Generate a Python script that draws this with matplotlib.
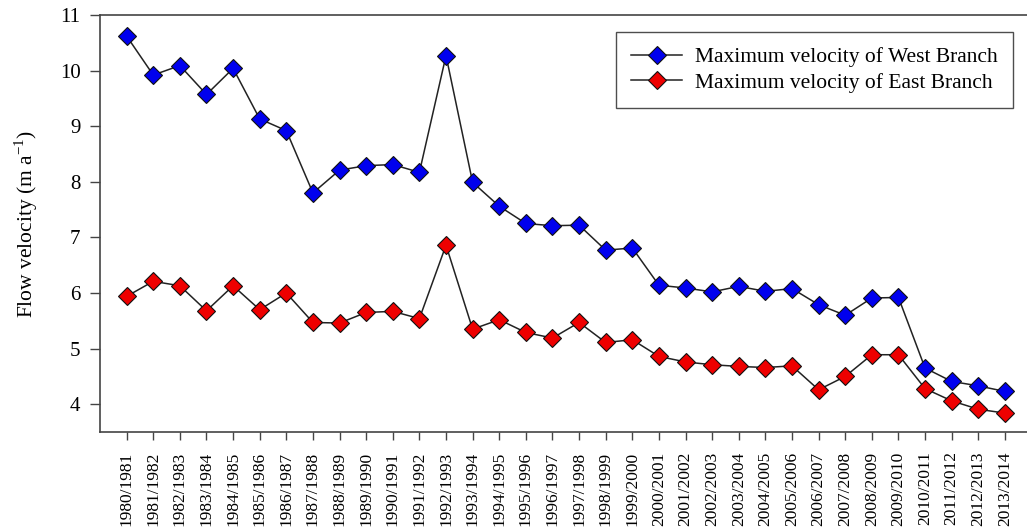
import matplotlib
matplotlib.use("Agg")
import matplotlib.pyplot as plt

plt.rcParams['font.family'] = ['Liberation Serif', 'DejaVu Serif']
plt.rcParams['mathtext.fontset'] = 'custom'
plt.rcParams['mathtext.rm'] = 'Liberation Serif'

years = [f"{y}/{y + 1}" for y in range(1980, 2014)]

west = [10.62, 9.92, 10.09, 9.57, 10.04, 9.13, 8.92, 7.80, 8.21, 8.29,
        8.31, 8.17, 10.27, 7.99, 7.56, 7.25, 7.21, 7.22, 6.77, 6.81,
        6.14, 6.09, 6.02, 6.12, 6.03, 6.08, 5.79, 5.60, 5.91, 5.92,
        4.65, 4.41, 4.33, 4.23]
east = [5.94, 6.21, 6.13, 5.68, 6.13, 5.70, 6.00, 5.47, 5.46, 5.65,
        5.67, 5.54, 6.86, 5.35, 5.52, 5.29, 5.19, 5.47, 5.11, 5.16,
        4.86, 4.76, 4.71, 4.68, 4.66, 4.69, 4.26, 4.50, 4.89, 4.89,
        4.28, 4.06, 3.91, 3.84]

fig = plt.figure(figsize=(10.27, 5.31), dpi=100)
ax = fig.add_axes([0.0974, 0.1864, 0.9026, 0.7854])

x = list(range(len(years)))
ax.plot(x, west, color='#222222', lw=1.1, marker='D', ms=9,
        markerfacecolor='#0000ee', markeredgecolor='#111111', mew=0.8,
        label='Maximum velocity of West Branch')
ax.plot(x, east, color='#222222', lw=1.1, marker='D', ms=9,
        markerfacecolor='#ee0000', markeredgecolor='#111111', mew=0.8,
        label='Maximum velocity of East Branch')

ax.set_xlim(-1, 33.83)
ax.set_ylim(3.5, 11)
ax.set_yticks(range(4, 12))
ax.set_xticks(x)
ax.set_xticklabels(years, rotation=90, fontsize=12.5)
ax.tick_params(axis='y', labelsize=15, length=7, width=1, pad=7, color='#444444')
ax.tick_params(axis='x', length=6, width=1, pad=8, color='#444444')
ax.set_ylabel(r'Flow velocity (m a$^{\mathregular{-1}}$)', fontsize=15.5, labelpad=14)

ax.spines['right'].set_visible(False)
for s in ['left', 'top', 'bottom']:
    ax.spines[s].set_color('#444444')
    ax.spines[s].set_linewidth(1.2)

leg = ax.legend(loc='upper right', bbox_to_anchor=(0.985, 0.959), fontsize=15.5,
                frameon=True, fancybox=False, edgecolor='#222222',
                handlelength=2.4, handletextpad=0.6, borderpad=0.7,
                labelspacing=0.25, borderaxespad=0)
leg.get_frame().set_linewidth(1.0)

fig.savefig('out.png', dpi=100)
